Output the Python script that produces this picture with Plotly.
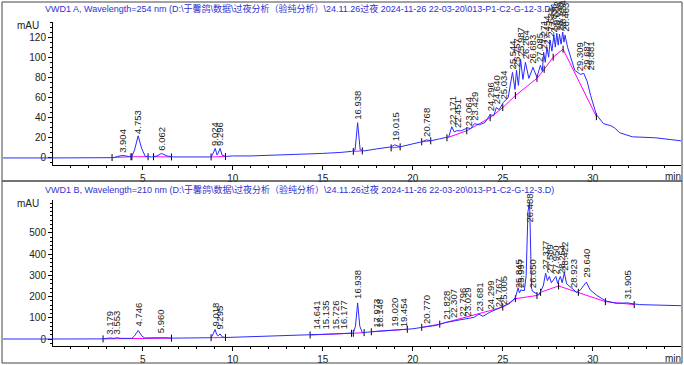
import plotly.graph_objects as go

W, H = 684, 365

# ---------------- Signal A (254 nm) ----------------
ta = [0, 3.4, 3.6, 3.9, 4.2, 4.4, 4.55, 4.75, 4.95, 5.15, 5.5, 5.8, 6.05, 6.35, 6.7, 7.5, 8.0, 8.8, 8.95,
      9.03, 9.13, 9.2, 9.3, 9.4, 9.6, 10.0, 11, 12, 13, 14, 15, 16, 16.6, 16.8, 16.94, 17.08, 17.3, 18,
      18.8, 19.0, 19.3, 20.0, 20.5, 20.77, 21.0, 21.5, 22.0, 22.17, 22.3, 22.45, 22.7, 23.06, 23.2, 23.43,
      23.7, 24.0, 24.3, 24.5, 24.64, 24.8, 25.03, 25.3, 25.54, 25.68, 25.76, 25.87, 25.99, 26.12, 26.26,
      26.45, 26.68, 26.9, 27.09, 27.2, 27.27, 27.36, 27.45, 27.55, 27.63, 27.73, 27.84, 27.92, 28.0, 28.08,
      28.15, 28.24, 28.33, 28.4, 28.46, 28.6, 28.8, 29.0, 29.31, 29.5, 29.69, 29.88, 30.2, 30.6, 31.0,
      31.2, 31.5, 32.2, 33.5, 34.9]
va = [0, 0.3, 1.5, 2.5, 1.5, 1.5, 8, 22, 9, 1.5, 1, 2, 4.5, 2, 1, 1, 0.5, 1, 6,
      9.5, 3, 5, 9.5, 3, 1.5, 2, 2, 2.5, 3, 4, 4.5, 5.5, 6.5, 8, 35, 8, 7, 9,
      11, 13, 11, 14, 16, 18, 17, 19, 21, 31, 26, 27, 27, 30, 29, 34,
      33, 35, 43, 42, 50, 48, 55, 60, 85, 68, 87, 72, 98, 78, 95,
      79, 90, 80, 92, 86, 105, 95, 110, 100, 117, 106, 122, 110, 124, 112,
      123, 113, 125, 115, 122, 110, 98, 87, 83, 84, 76, 62, 43, 34, 32,
      30, 25, 21, 20, 17]
# baseline (integration) for A
bta = [3.3, 4.35, None, 4.4, 5.3, None, 5.6, 6.6, None, 8.8, 9.6, None, 16.7, 17.2, None, 18.8, 19.3, None,
       20.5, 21.0, None, 21.9, 23.0, 24.3, 25.0, 25.7, 26.9, 27.3, 27.8, 28.35, 30.2]
bva = [0.4, 1.2, None, 1.2, 1.2, None, 1.2, 1.0, None, 1.0, 1.4, None, 6.5, 7.0, None, 10, 11, None,
       16, 17, None, 20, 27, 40, 50, 62, 79, 88, 100, 108, 41]
peaks_a = ["3.904", "4.753", "6.062", "9.024", "9.296", "16.938", "19.015", "20.768", "22.171", "22.451",
           "23.064", "23.429", "24.296", "24.640", "25.034", "25.544", "25.757", "25.987", "26.264", "26.683",
           "27.085", "27.271", "27.454", "27.633", "27.836", "28.002", "28.149", "28.334", "28.463",
           "29.309", "29.687", "29.881"]
peak_a_h = [3, 22, 5, 10, 10, 36, 14, 19, 31, 28, 30, 35, 44, 51, 56, 86, 88, 99, 96, 91,
            93, 106, 111, 118, 123, 125, 124, 126, 123, 84, 85, 85]

# ---------------- Signal B (210 nm) ----------------
tb = [0, 2.8, 3.18, 3.4, 3.55, 3.8, 4.4, 4.55, 4.75, 4.95, 5.1, 5.6, 5.96, 6.3, 6.6, 7.2, 8.0, 8.8, 8.92,
      9.02, 9.12, 9.2, 9.3, 9.42, 9.6, 10, 11, 12, 13, 14, 14.64, 15.14, 15.73, 16.18, 16.7, 16.82, 16.94,
      17.06, 17.2, 17.97, 18.15, 19.02, 19.45, 20.0, 20.77, 21.3, 21.83, 22.31, 22.8, 23.03, 23.4, 23.68,
      23.9, 24.3, 24.77, 25.0, 25.4, 25.7, 25.85, 25.93, 26.0, 26.2, 26.3, 26.4, 26.49, 26.55, 26.6,
      26.65, 27.0, 27.25, 27.38, 27.48, 27.59, 27.7, 27.95, 28.05, 28.2, 28.3, 28.42, 28.55, 28.92, 29.1,
      29.3, 29.64, 29.85, 30.2, 30.7, 31.3, 31.9, 32.6, 34.9]
vb = [0, 0.5, 5, 3, 6, 3, 3, 15, 40, 15, 5, 5, 8, 6, 4, 5, 4, 6, 25,
      45, 20, 15, 24, 10, 7, 8, 10, 12, 14, 17, 21, 22, 24, 26, 28, 60, 170,
      60, 30, 36, 37, 42, 44, 48, 58, 64, 78, 86, 92, 96, 102, 117,
      107, 127, 143, 152, 168, 195, 240, 217, 231, 228, 300, 600, 645, 420, 240,
      225, 207, 250, 310, 275, 295, 265, 295, 262, 295, 265, 312, 260, 232, 220,
      230, 268, 232, 207, 180, 168, 170, 162, 157]
btb = [2.8, 6.6, None, 8.8, 9.6, None, 14.3, 16.6, None, 16.7, 17.3, None, 17.7, 19.7, None, 20.5, 21.5,
       25.0, 25.7, 26.9, 27.1, 28.1, 29.2, 30.7, 32.3]
bvb = [0.5, 4, None, 6, 7, None, 19, 27, None, 27, 30, None, 34, 46, None, 55, 70,
       150, 190, 205, 220, 250, 220, 176, 162]
peaks_b = ["3.179", "3.553", "4.746", "5.960", "9.018", "9.295", "14.641", "15.135", "15.726", "16.177",
           "16.938", "17.973", "18.148", "19.020", "19.454", "20.770", "21.828", "22.307", "22.796", "23.029",
           "23.681", "24.299", "24.767", "25.005", "25.845", "25.997", "26.488", "26.650", "27.377", "27.589",
           "27.950", "28.254", "28.422", "28.923", "29.640", "31.905"]
peak_b_h = [10, 10, 50, 18, 50, 35, 34, 34, 36, 38,
            180, 42, 42, 46, 48, 62, 82, 88, 93, 96,
            118, 128, 140, 152, 232, 232, 540, 230, 317, 300,
            296, 296, 312, 230, 278, 176]

ya_ticks = [0, 20, 40, 60, 80, 100, 120]
yb_ticks = [0, 100, 200, 300, 400, 500]
x_ticks = [5, 10, 15, 20, 25, 30]

BLUE = "#2a2aff"
MAG = "#ff00ff"
FONT = "Liberation Sans, Arial, Noto Sans CJK SC"

fig = go.Figure()
for bx, by, xa, ya in [(bta, bva, "x", "y"), (btb, bvb, "x2", "y2")]:
    fig.add_trace(go.Scatter(x=bx, y=by, mode="lines+markers", line=dict(color=MAG, width=1),
                             marker=dict(symbol="line-ns-open", size=5, color="black",
                                         line=dict(color="black", width=1)),
                             xaxis=xa, yaxis=ya, connectgaps=False, hoverinfo="skip"))
fig.add_trace(go.Scatter(x=ta, y=va, mode="lines", line=dict(color=BLUE, width=1), xaxis="x", yaxis="y"))
fig.add_trace(go.Scatter(x=tb, y=vb, mode="lines", line=dict(color=BLUE, width=1), xaxis="x2", yaxis="y2"))

def px_x(p):
    return p / W

def px_y(p):
    return 1 - p / H

xdom = [px_x(53), px_x(681)]
ax_common = dict(showgrid=False, zeroline=False, showline=True, linecolor="black", linewidth=1,
                 ticks="outside", ticklen=4, tickcolor="black", tickmode="array",
                 tickfont=dict(family=FONT, size=10, color="#222"))
fig.update_layout(
    width=W, height=H, margin=dict(l=0, r=0, t=0, b=0), showlegend=False,
    paper_bgcolor="white", plot_bgcolor="white",
    xaxis=dict(domain=xdom, range=[0.02, 34.9], anchor="y", tickvals=x_ticks,
               minor=dict(tickmode="linear", tick0=0, dtick=1, ticks="outside", ticklen=2, tickcolor="black"), **ax_common),
    yaxis=dict(domain=[px_y(165), px_y(22)], range=[-7, 135], anchor="x", tickvals=ya_ticks,
               minor=dict(tickmode="linear", tick0=0, dtick=5, ticks="outside", ticklen=2, tickcolor="black"), **ax_common),
    xaxis2=dict(domain=xdom, range=[0.02, 34.9], anchor="y2", tickvals=x_ticks,
                minor=dict(tickmode="linear", tick0=0, dtick=1, ticks="outside", ticklen=2, tickcolor="black"), **ax_common),
    yaxis2=dict(domain=[px_y(346), px_y(200)], range=[-33, 655], anchor="x2", tickvals=yb_ticks,
                minor=dict(tickmode="linear", tick0=0, dtick=20, ticks="outside", ticklen=2, tickcolor="black"), **ax_common),
)

shapes = [
    dict(type="rect", xref="paper", yref="paper", x0=px_x(2), x1=px_x(682), y0=px_y(181), y1=px_y(2),
         line=dict(color="#444", width=1)),
    dict(type="rect", xref="paper", yref="paper", x0=px_x(2), x1=px_x(682), y0=px_y(363), y1=px_y(181),
         line=dict(color="#444", width=1)),
    dict(type="line", xref="paper", yref="y", x0=px_x(3), x1=px_x(53), y0=va[0], y1=va[0],
         line=dict(color=BLUE, width=1)),
    dict(type="line", xref="paper", yref="y2", x0=px_x(3), x1=px_x(53), y0=vb[0], y1=vb[0],
         line=dict(color=BLUE, width=1)),
]
fig.update_layout(shapes=shapes)

ann = []
title_a = "VWD1 A, Wavelength=254 nm (D:\\于馨鸽\\数据\\过夜分析（验纯分析）\\24.11.26过夜 2024-11-26 22-03-20\\013-P1-C2-G-12-3.D)"
title_b = "VWD1 B, Wavelength=210 nm (D:\\于馨鸽\\数据\\过夜分析（验纯分析）\\24.11.26过夜 2024-11-26 22-03-20\\013-P1-C2-G-12-3.D)"
for txt, y in [(title_a, 8), (title_b, 189)]:
    ann.append(dict(text=txt, xref="paper", yref="paper", x=px_x(43), y=px_y(y), xanchor="left",
                    yanchor="middle", showarrow=False, font=dict(family="Liberation Sans Narrow, " + FONT, size=9, color="#3030d0")))
for y in [25, 203]:
    ann.append(dict(text="mAU", xref="paper", yref="paper", x=px_x(28), y=px_y(y), xanchor="center",
                    yanchor="middle", showarrow=False, font=dict(family=FONT, size=10, color="#222")))
for y in [176, 358]:
    ann.append(dict(text="min", xref="paper", yref="paper", x=px_x(673), y=px_y(y), xanchor="center",
                    yanchor="middle", showarrow=False, font=dict(family=FONT, size=10, color="#222")))

for labels, hs, xr, yr in [(peaks_a, peak_a_h, "x", "y"), (peaks_b, peak_b_h, "x2", "y2")]:
    for lab, h in zip(labels, hs):
        ann.append(dict(text=lab, x=float(lab), y=h, xref=xr, yref=yr, textangle=-90, showarrow=False,
                        xanchor="center", yanchor="bottom", font=dict(family=FONT, size=9.5, color="#222")))
fig.update_layout(annotations=ann)

fig.write_html("out.html", config={"displayModeBar": False},
               post_script="document.body.style.margin='0';document.body.style.overflow='hidden';")
